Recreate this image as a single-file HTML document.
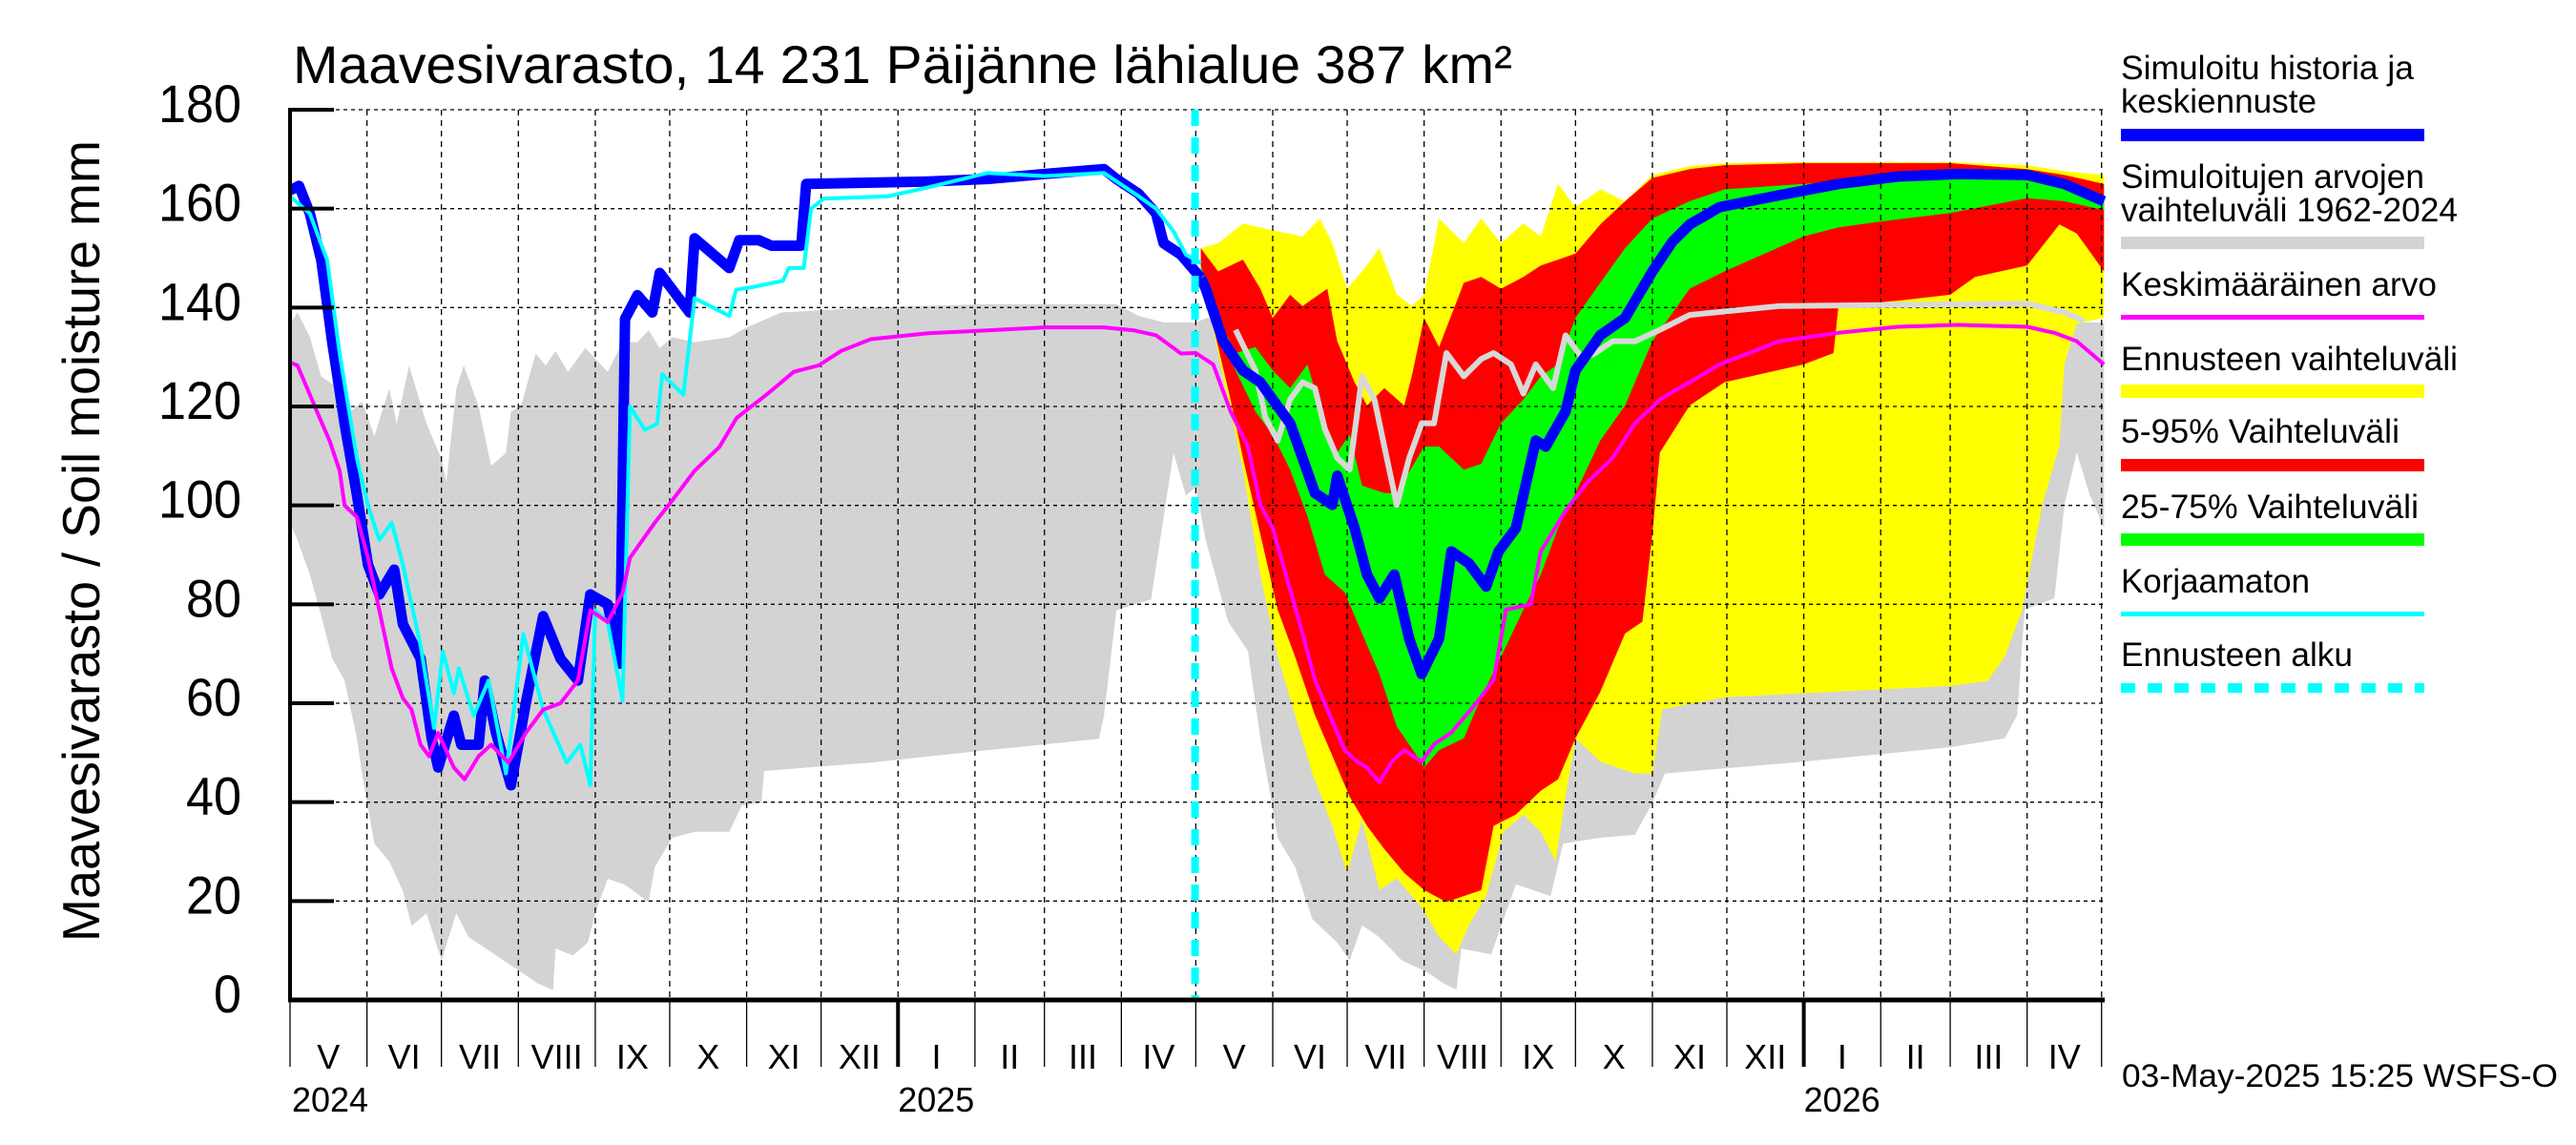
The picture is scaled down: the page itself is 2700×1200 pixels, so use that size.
<!DOCTYPE html>
<html><head><meta charset="utf-8"><title>Maavesivarasto</title>
<style>
html,body{margin:0;padding:0;background:#fff;}
svg{display:block;}
text{font-family:"Liberation Sans",sans-serif;fill:#000;}
</style></head>
<body>
<svg id="chart" xmlns="http://www.w3.org/2000/svg" width="2700" height="1200" viewBox="0 0 2700 1200">
<rect x="0" y="0" width="2700" height="1200" fill="#fff"/>
<defs><clipPath id="plotclip"><rect x="304" y="100" width="1903" height="948"/></clipPath></defs>
<g id="bands" clip-path="url(#plotclip)"></g>
<g id="grid"></g>
<g id="lines" clip-path="url(#plotclip)"></g>
<g id="axes"></g>
<text x="307" y="87" font-size="56" textLength="1278" lengthAdjust="spacingAndGlyphs">Maavesivarasto, 14 231 Päijänne lähialue 387 km²</text>
<text x="104" y="567" font-size="55" text-anchor="middle" transform="rotate(-90 104 567)" textLength="840" lengthAdjust="spacingAndGlyphs">Maavesivarasto / Soil moisture   mm</text>
<text x="2224" y="1139" font-size="34" textLength="457" lengthAdjust="spacingAndGlyphs">03-May-2025 15:25 WSFS-O</text>
<g id="legend">
<g>
<text x="2223" y="83" font-size="35" textLength="307" lengthAdjust="spacingAndGlyphs">Simuloitu historia ja</text>
<text x="2223" y="118" font-size="35" textLength="205" lengthAdjust="spacingAndGlyphs">keskiennuste</text>
<rect x="2223" y="135" width="318" height="13" fill="#0000ff"/></g>
<g>
<text x="2223" y="197" font-size="35" textLength="318" lengthAdjust="spacingAndGlyphs">Simuloitujen arvojen</text>
<text x="2223" y="232" font-size="35" textLength="353" lengthAdjust="spacingAndGlyphs">vaihteluväli 1962-2024</text>
<rect x="2223" y="248" width="318" height="13" fill="#d3d3d3"/></g>
<g>
<text x="2223" y="310" font-size="35" textLength="331" lengthAdjust="spacingAndGlyphs">Keskimääräinen arvo</text>
<rect x="2223" y="330" width="318" height="5" fill="#ff00ff"/></g>
<g>
<text x="2223" y="388" font-size="35" textLength="353" lengthAdjust="spacingAndGlyphs">Ennusteen vaihteluväli</text>
<rect x="2223" y="403" width="318" height="14" fill="#ffff00"/></g>
<g>
<text x="2223" y="464" font-size="35" textLength="292" lengthAdjust="spacingAndGlyphs">5-95% Vaihteluväli</text>
<rect x="2223" y="481" width="318" height="13" fill="#ff0000"/></g>
<g>
<text x="2223" y="543" font-size="35" textLength="312" lengthAdjust="spacingAndGlyphs">25-75% Vaihteluväli</text>
<rect x="2223" y="559" width="318" height="13" fill="#00ff00"/></g>
<g>
<text x="2223" y="621" font-size="35" textLength="198" lengthAdjust="spacingAndGlyphs">Korjaamaton</text>
<rect x="2223" y="641" width="318" height="5" fill="#00ffff"/></g>
<g>
<text x="2223" y="698" font-size="35" textLength="243" lengthAdjust="spacingAndGlyphs">Ennusteen alku</text>
<line x1="2223" y1="721" x2="2541" y2="721" stroke="#00ffff" stroke-width="10" stroke-dasharray="15 13"/></g>
</g>
</svg>
<script>
// ---- data (day = days since 1 May 2024, value = mm) ----
const monthLabels = ["V","VI","VII","VIII","IX","X","XI","XII","I","II","III","IV","V","VI","VII","VIII","IX","X","XI","XII","I","II","III","IV"];
const monthStartDays = [0,31,61,92,123,153,184,214,245,276,304,335,365,396,426,457,488,518,549,579,610,641,669,700,730];
const yearLabels = ["2024","2025","2026"];
const yearStartDays = [0,245,610];
const yTicks = [0,20,40,60,80,100,120,140,160,180];
const forecastStartDay = 367;

const greyUpper = [[0,136.6],[3,139],[8,134],[12.6,126],[20,123.6],[24.5,119],[29,121],[34,114],[40,123.6],[43,116.5],[48,128.3],[55,116.5],[61,109.4],[63,104.7],[67,123.6],[70,128.3],[76,120],[81,108],[87,110.6],[89,119],[93,120],[99,130.7],[103,128.3],[107,131.2],[112,127],[119,131.8],[128,127],[134,133],[140,133],[144.5,135.4],[149,131.8],[154,134],[163,133],[177,134],[184,136],[198,139],[234,140],[281,140.7],[333,140.7],[342,138.3],[352,137],[365,137],
[370,138],[380,133],[395,122],[410,120],[425,110],[440,122],[455,118],[470,128],[485,132],[500,134],[520,135],[549,137],[563,139],[600,140],[646,140.7],[698,140.7],[707,138.3],[717,137],[731,137]];
const greyLower = [[0,96.5],[3,93],[8,86],[12.6,77.6],[17,69],[22,64.6],[27,52.8],[29,45.8],[34,31.6],[40,28],[45.5,22],[49,15],[55,17.5],[61,8],[67,17.5],[72,12.7],[79,10.4],[86,8],[93,5.7],[100,3.3],[106,2],[107,10.4],[114,9],[120,11.6],[123,17.5],[128,24.5],[135,23.3],[144.5,19.8],[147,26.9],[154,32.8],[163,34],[177,34],[182,39.3],[190,39.9],[191,46.3],[234,48],[281,50.5],[326,52.8],[328,57.5],[333,78.8],[347,81],[352,97.6],[356,110.6],[361,102],[365,103.7],
[369,93],[378,76.5],[386,70.6],[391,52.9],[398,32.8],[405,26.9],[412,16.3],[422,11.6],[427,8],[432,15.1],[439,12.7],[448,8],[458,5.7],[465,3.3],[470,2.1],[472,10.4],[484,9.2],[489,16.3],[494,23.4],[508,21],[513,31.6],[528,32.8],[542,33.4],[549,39.9],[554,45.8],[610,48.2],[669,51.1],[691,52.9],[696,57.6],[699,78.9],[711,81.2],[715,100],[720,110.7],[725,102.5],[731,95.4]];

const yellowUpper = [[367,152],[374,153],[384,157],[396,155.6],[408,154.4],[415,158],[420,153],[426,143.8],[432,147.3],[439,152],[446,142.6],[452,140.3],[457,142.6],[463,158],[473,153],[480,158],[488,153],[497,157],[504,154.4],[511,165],[518,160.3],[528,163.9],[538,161.5],[549,166.8],[564,168.6],[578,169.2],[610,169.4],[669,169.4],[700,168.8],[715,167.6],[731,166.8]];
const yellowLower = [[367,147.3],[374,130.8],[384,107.2],[391,86],[398,69.4],[405,57.6],[412,45.8],[420,35.2],[426,25.7],[432,36.4],[439,22.2],[446,24.6],[456,18.7],[463,12.8],[470,9.2],[475,15.1],[482,21],[489,34],[497,37.5],[504,34],[510,28.1],[514,41.1],[518,52.9],[528,48.2],[542,45.8],[549,45.8],[553,58.8],[578,61.2],[610,62],[669,63.5],[684,64.5],[691,69.4],[698,78.9],[706,100],[713,112],[715,128.5],[720,136.7],[731,138]];
const redUpper = [[367,152],[374,147.3],[384,149.7],[391,143.8],[396,137.9],[403,142.6],[408,140.3],[418,143.8],[422,133.2],[429,124.9],[434,120.2],[441,123.7],[449,120.2],[452,126.1],[457,137.9],[463,132],[473,145],[480,146.2],[488,143.8],[497,146.2],[504,148.5],[511,149.7],[518,150.9],[528,156.8],[538,161.5],[549,166.2],[564,168],[578,168.8],[610,169.2],[669,169.2],[700,168],[715,166.8],[731,165]];
const redLower = [[367,147.3],[374,132],[379,121.4],[384,109.6],[391,94.2],[398,78.9],[405,69.4],[413,57.6],[420,49.4],[427,41.1],[434,35.2],[441,30.5],[449,25.7],[457,22.2],[466,19.8],[473,21],[480,22.2],[485,35.2],[494,37.5],[504,42.3],[511,44.6],[518,52.9],[528,62.3],[538,74.1],[545,76.5],[549,94.2],[552,110.7],[564,120.2],[578,124.9],[610,128.5],[622,130.8],[624,140.3],[648,141.4],[669,142.6],[679,146.2],[700,148.5],[713,156.8],[720,155],[731,147.3]];
const greenUpper = [[367,148.5],[374,137.9],[381,130.8],[389,132],[396,127.3],[403,123.7],[410,128.5],[417,116.6],[422,110.7],[427,114.3],[432,104],[441,102.5],[446,102.5],[457,111.9],[463,111.9],[473,107.2],[480,108.4],[488,116.6],[497,121.4],[504,126.1],[511,128.5],[518,137.9],[528,145],[538,152],[549,158],[564,161.5],[578,163.9],[610,165],[669,166.8],[700,166.2],[715,164.5],[731,162.1]];
const greenLower = [[367,147.3],[374,135.5],[381,127.3],[389,119],[396,114.3],[403,107.2],[410,97.8],[417,86],[425,82.4],[432,74.1],[439,65.9],[446,55.3],[454,49.4],[457,47],[463,50.5],[473,52.9],[480,61.2],[488,69.4],[497,78.9],[504,86],[511,95.4],[518,102.5],[528,113.1],[538,120.2],[549,133.2],[564,143.8],[578,147.3],[610,154.4],[624,156.2],[641,157.4],[669,159.1],[700,162.1],[715,161.5],[731,159.7]];

const blueHist = [[0,163.7],[3.6,164.6],[8,159],[12.6,149.5],[17,133],[22,116.5],[27,102],[31.4,88],[36,82],[42,87],[45.5,76],[52.6,69],[57,53],[59.7,47],[66,57.5],[69,51.6],[76,51.6],[78.5,64.6],[83,54],[89,43.4],[95,60],[102,77.6],[109,69],[116,64.6],[121,82],[128,80],[133,68],[135,137.7],[140,142.5],[146,139],[149,147],[161,139],[163,154],[177,148],[181,153.6],[189,153.6],[194,152.5],[206,152.5],[208,165],[257,165.5],[281,166],[304,167],[328,168],[333,166],[342,163],[349,159],[352,153],[359,150.7],[367,146]];
const blueForecast = [[367,146],[369,143.8],[376,133.2],[384,127.3],[391,124.9],[396,121.4],[403,116.6],[408,109.6],[413,102.5],[420,100.1],[422,106],[429,95.4],[434,86],[439,81.2],[445,86],[451,73],[456,65.9],[463,73],[468,90.7],[475,88.3],[482,83.6],[487,90.7],[494,95.4],[502,113.1],[506,111.9],[514,119],[518,127.3],[528,134.4],[538,137.9],[549,147.3],[557,153.3],[564,156.8],[576,160.3],[600,162.7],[624,165],[648,166.5],[672,167],[700,166.8],[715,165],[731,161.5]];
const cyanHist = [[0,162.5],[8,159],[15,149.5],[20,130.7],[27,109.4],[31.4,100],[36,93],[41,96.5],[45.5,88],[52.6,71.7],[58,55],[61.6,70.5],[66,62],[68,67],[74,57.5],[80,64.6],[87,45.8],[94,74],[102,58.7],[111.5,48],[117,51.6],[121,43.4],[123,78.8],[128,76.4],[134,60.5],[137,120],[143,115.3],[148,116.5],[150,126.5],[158.5,122.4],[163,141.9],[177,138.3],[179.7,143.6],[187,144.2],[198.6,145.4],[201,148],[207,148],[210,160],[215,162],[241,162.5],[257,164.3],[281,167.2],[304,166.6],[328,167.2],[342,162.5],[349,160],[356,155.4],[361,150.7],[367,149]];
const meanLine = [[0,128.9],[3,128.3],[8,122.4],[11.4,118.3],[16,113],[20,107],[22,100],[27,97.6],[31.4,89.4],[36,78.8],[41,67],[45.5,61],[49,58.7],[52.6,51.6],[56,49.3],[59.7,54],[66,47],[70.3,44.6],[76,49.3],[81,51.6],[88,48],[95,54],[102,58.7],[109,60],[116,64.6],[121,78.8],[128,76.4],[134,82.3],[137,89.4],[147,96.5],[154,101],[163,107],[173,111.8],[180,117.7],[192,122.4],[203,127],[213,128.3],[222,131.2],[234,133.6],[257,134.8],[281,135.4],[304,136],[328,136],[340,135.4],[349,134.4],[359,130.7],[365,130.8],
[372,128.5],[379,119],[386,111.9],[391,100.1],[396,95.4],[400,88.3],[404,81.2],[408,74.1],[413,64.7],[420,56.4],[425,50.5],[430,48.2],[434,47],[439,44],[444,48.2],[449,50.5],[456,48.2],[461,51.7],[468,54.1],[478,60],[485,64.7],[490,78.9],[500,80],[504,90.7],[514,98.9],[523,104.8],[533,109.6],[542,116.6],[552,121.4],[564,124.9],[576,128.5],[588,130.8],[600,133.2],[624,134.9],[648,136.1],[672,136.5],[700,136.1],[711,134.9],[720,133.2],[731,128.5]];
const refLine = [[381,135.5],[389,127.3],[393,117.8],[398,113.1],[403,121.4],[408,124.9],[413,123.7],[417,115.5],[422,109.6],[427,107.2],[432,126.1],[437,121.4],[441,111.9],[446,100.1],[451,109.6],[456,116.6],[461,116.6],[466,130.8],[473,126.1],[480,129.6],[485,130.8],[492,128.5],[497,122.6],[502,128.5],[509,123.7],[514,134.4],[521,129.6],[526,130.8],[533,133.2],[542,133.2],[552,135.5],[564,138.5],[600,140.3],[700,140.8],[715,139],[723,137.3]];

// ---- scales ----
const X0 = 304, PXD = 2.601, Y0 = 1048, PXV = 933/180, XR = 2206;
function xs(d){ return X0 + d*PXD; }
function ys(v){ return Y0 - v*PXV; }
const NS = "http://www.w3.org/2000/svg";
function mk(tag, attrs, parent){ const e=document.createElementNS(NS,tag); for(const k in attrs) e.setAttribute(k,attrs[k]); parent.appendChild(e); return e; }
function pts(arr){ return arr.map(p=>xs(p[0]).toFixed(1)+","+ys(p[1]).toFixed(1)).join(" "); }
function band(up, lo, color, name){
  const poly = mk("polygon",{points: pts(up)+" "+pts(lo.slice().reverse()), fill: color}, document.getElementById("bands"));
  
  
}
function line(arr, color, w, name){
  const pl = mk("polyline",{points: pts(arr), fill:"none", stroke: color, "stroke-width": w, "stroke-linejoin":"round"}, document.getElementById("lines"));
  
  
}

band(greyUpper, greyLower, "#d3d3d3", "historical-range-band");
band(yellowUpper, yellowLower, "#ffff00", "forecast-range-band");
band(redUpper, redLower, "#ff0000", "forecast-5-95-band");
band(greenUpper, greenLower, "#00ff00", "forecast-25-75-band");

// grid
const grid = document.getElementById("grid");
yTicks.forEach(v=>{
  if(v===0) return;
  const g = mk("line",{x1:X0,x2:XR,y1:ys(v),y2:ys(v),stroke:"#000","stroke-width":1.3,"stroke-dasharray":"4 4"},grid);
  
  
});
monthStartDays.forEach(d=>{
  if(d===0) return;
  const g = mk("line",{x1:xs(d),x2:xs(d),y1:ys(180),y2:Y0,stroke:"#000","stroke-width":1.3,"stroke-dasharray":"6 5"},grid);
  
  
});

// lines
line(refLine, "#d8d8d8", 6, "reference-line");
line(blueHist, "#0000ff", 11, "simulated-history-line");
line(blueForecast, "#0000ff", 11, "median-forecast-line");
line(cyanHist, "#00ffff", 4, "uncorrected-line");
line(meanLine, "#ff00ff", 4, "mean-line");

// axes
const axes = document.getElementById("axes");
const fs = mk("line",{x1:xs(forecastStartDay)-6,x2:xs(forecastStartDay)-6,y1:ys(180),y2:Y0,stroke:"#00ffff","stroke-width":8,"stroke-dasharray":"17 12"},axes);


const la = mk("line",{x1:X0,x2:X0,y1:ys(180)-2,y2:Y0+2,stroke:"#000","stroke-width":4},axes);


const ba = mk("line",{x1:X0-2,x2:XR,y1:Y0,y2:Y0,stroke:"#000","stroke-width":5},axes);


yTicks.forEach((v,i)=>{
  const t = mk("line",{x1:X0,x2:X0+46,y1:ys(v),y2:ys(v),stroke:"#000","stroke-width":4},axes);
  
  
  const s = String(v);
  const lab = mk("text",{x:253,y:ys(v)+13,"font-size":56,"text-anchor":"end",textLength:29*s.length,lengthAdjust:"spacingAndGlyphs"},axes);
  lab.textContent = s;
  
  
});
monthStartDays.forEach((d,i)=>{
  const isYear = yearStartDays.indexOf(d)>=0 && d>0;
  const t = mk("line",{x1:xs(d),x2:xs(d),y1:Y0,y2:1118,stroke:"#000","stroke-width":isYear?4:1.3},axes);
  
  
  if(i<monthLabels.length){
    const mid = (xs(d)+xs(monthStartDays[i+1]))/2;
    const s = monthLabels[i];
    const lab = mk("text",{x:mid,y:1120,"font-size":36,"text-anchor":"middle"},axes);
    lab.textContent = s;
    
    
  }
});
yearLabels.forEach((s,i)=>{
  const lab = mk("text",{x:xs(yearStartDays[i])+(i===0?2:0),y:1165,"font-size":36,textLength:80,lengthAdjust:"spacingAndGlyphs"},axes);
  lab.textContent = s;
  
  
});
</script>
</body></html>
